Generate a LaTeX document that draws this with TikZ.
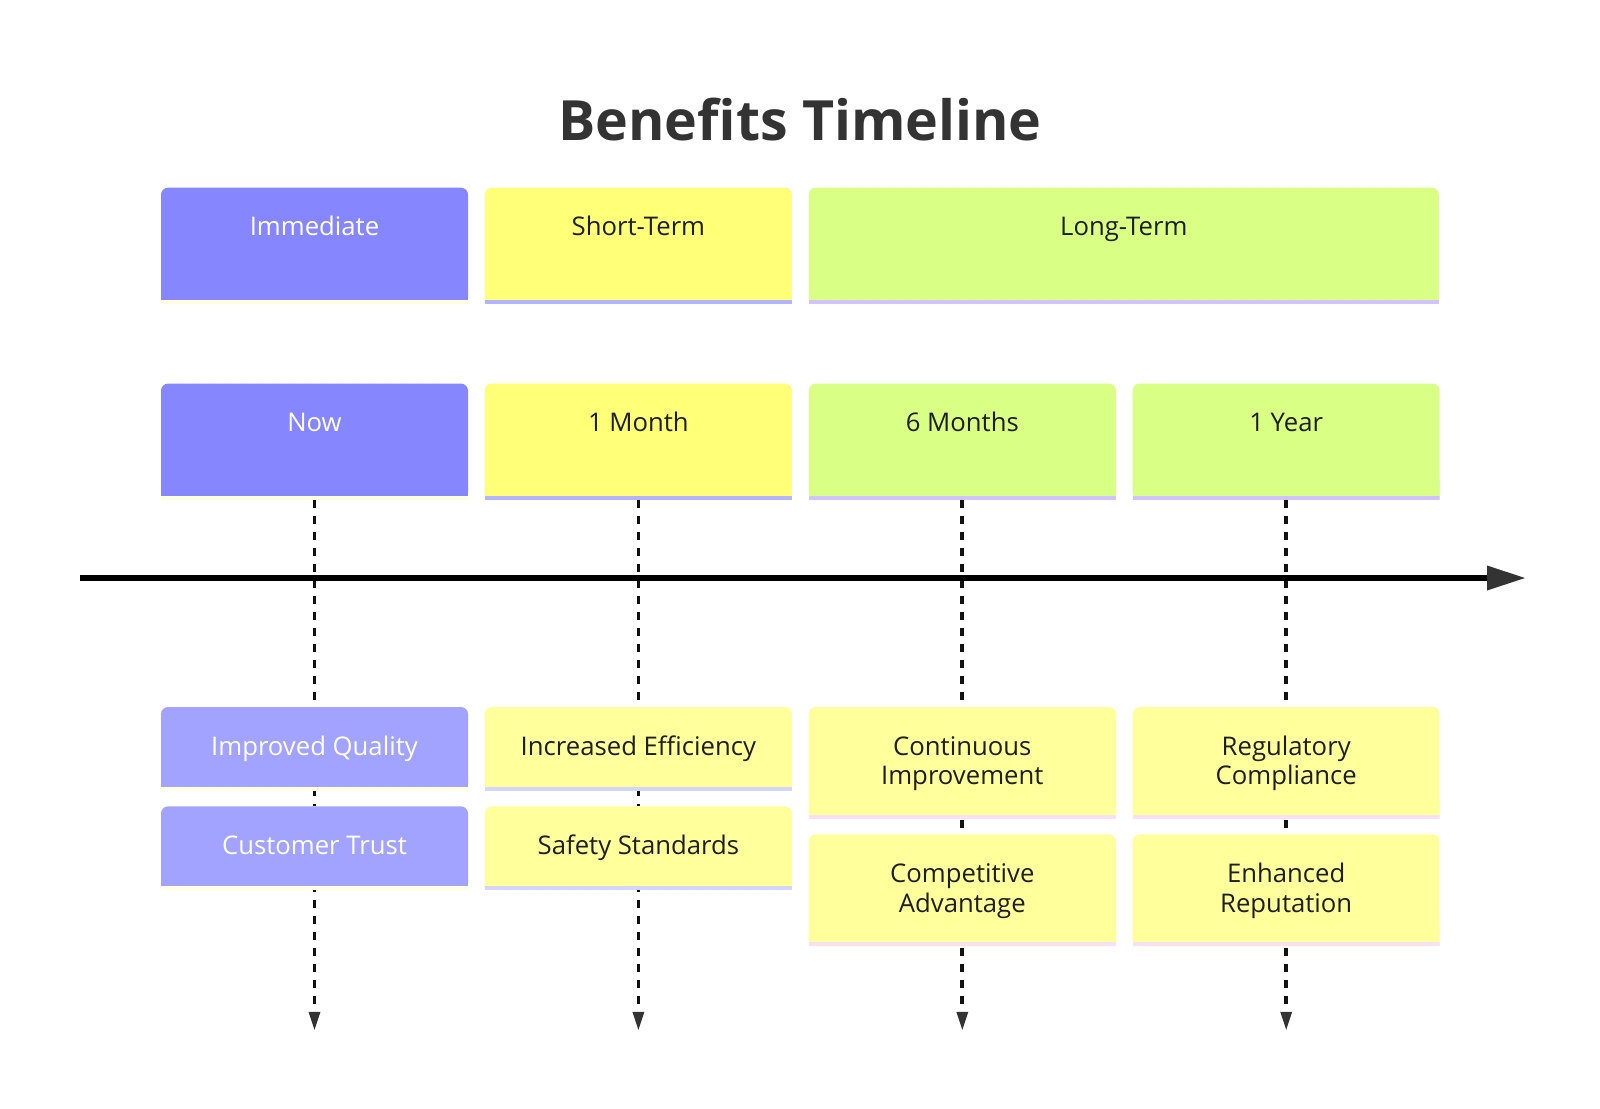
\documentclass[tikz,border=0pt]{standalone}
\usepackage{fontspec}
\setmainfont{Open Sans}
\usepackage{xcolor}
\usepackage{tikz}
\usetikzlibrary{positioning,arrows.meta}
\definecolor{blueFill}{HTML}{8686FF}
\definecolor{blueLight}{HTML}{A2A2FF}
\definecolor{yellowFill}{HTML}{FFFF78}
\definecolor{yellowLight}{HTML}{FFFF9C}
\definecolor{greenFill}{HTML}{D9FF85}
\definecolor{creamLine}{HTML}{FFFFDE}
\definecolor{creamLight}{HTML}{FFFFE3}
\definecolor{lavLine}{HTML}{B3B3FF}
\definecolor{lavLight}{HTML}{D4D4FF}
\definecolor{lilacLine}{HTML}{D2C2FF}
\definecolor{pinkLight}{HTML}{F8E0F8}
\definecolor{textDark}{HTML}{1E1E1E}
\definecolor{titleGray}{HTML}{333333}
\definecolor{tipGray}{HTML}{333333}
\definecolor{lineDark}{HTML}{111111}
\newcommand{\boxfont}{\fontsize{25.7pt}{29.6pt}\selectfont}
\newcommand{\titlefont}{\fontsize{55.5pt}{60pt}\selectfont\bfseries}
\tikzset{paint/.style 2 args={fill=white, path picture={
    \fill[#1, rounded corners=7pt] (path picture bounding box.south west) rectangle (path picture bounding box.north east);
    \fill[#1] (path picture bounding box.south west) rectangle ([yshift=20pt]path picture bounding box.south east);
    \fill[#2] (path picture bounding box.south west) rectangle ([yshift=4pt]path picture bounding box.south east);}}}
\tikzstyle{arrow} = [draw, line width=6pt, color=black,
    -{Triangle[length=38pt, width=25pt, line width=0pt, color=tipGray]}]
\tikzstyle{dashArrow} = [draw, line width=3.8pt, color=lineDark, dash pattern=on 8.5pt off 7.5pt,
    -{Triangle[length=18pt, width=12pt, line width=0pt, color=tipGray]}]
\tikzstyle{titleText} = [anchor=base, inner sep=0pt, font=\titlefont, text=titleGray]
\tikzstyle{box} = [rectangle, inner sep=0pt, minimum width=307pt, text height=48pt,
    align=center, font=\boxfont]
\tikzstyle{headBox} = [box, text depth=68pt]
\tikzstyle{eventBox} = [box, text depth=35.5pt]
\tikzstyle{blueHead} = [headBox, paint={blueFill}{creamLine}, text=white]
\tikzstyle{yellowHead} = [headBox, paint={yellowFill}{lavLine}, text=textDark]
\tikzstyle{greenHead} = [headBox, paint={greenFill}{lilacLine}, text=textDark]
\tikzstyle{blueEvent} = [eventBox, paint={blueLight}{creamLight}, text=white]
\tikzstyle{yellowEvent} = [eventBox, paint={yellowLight}{lavLight}, text=textDark]
\tikzstyle{greenEvent} = [box, text height=77.6pt, text depth=34.4pt,
    paint={yellowLight}{pinkLight}, text=textDark]
\begin{document}
\begin{tikzpicture}[x=1pt, y=-1pt, node distance=16.5pt]
      \useasboundingbox (0,0) rectangle (1600,1108);
      % Place nodes
      \node [titleText] (title) at (800,140) {Benefits Timeline};

      \node [blueHead, anchor=north] (immediate) at (314.5,187.5) {Immediate};
      \node [yellowHead, right=of immediate] (shortTerm) {Short-Term};
      \node [greenHead, right=of shortTerm, minimum width=630pt] (longTerm) {Long-Term};

      \node [blueHead, below=79.5pt of immediate] (now) {Now};
      \node [yellowHead, right=of now] (month1) {1 Month};
      \node [greenHead, right=of month1] (months6) {6 Months};
      \node [greenHead, right=of months6] (year1) {1 Year};

      \coordinate (axisStart) at (80,578);
      \coordinate (axisEnd) at (1525,578);
      \coordinate [below=530pt of now.south] (nowEnd);
      \coordinate [below=530pt of month1.south] (month1End);
      \coordinate [below=530pt of months6.south] (months6End);
      \coordinate [below=530pt of year1.south] (year1End);

      \path [dashArrow] (now) -- (nowEnd);
      \path [dashArrow] (month1) -- (month1End);
      \path [dashArrow] (months6) -- (months6End);
      \path [dashArrow] (year1) -- (year1End);
      \path [arrow] (axisStart) -- (axisEnd);

      \node [blueEvent, below=207pt of now] (quality) {Improved Quality};
      \node [blueEvent, below=15.5pt of quality] (trust) {Customer Trust};
      \node [yellowEvent, right=of quality] (efficiency) {Increased Efficiency};
      \node [yellowEvent, right=of trust] (safety) {Safety Standards};
      \node [greenEvent, below=207pt of months6] (improvement) {Continuous\\Improvement};
      \node [greenEvent, below=15pt of improvement] (advantage) {Competitive\\Advantage};
      \node [greenEvent, right=of improvement] (compliance) {Regulatory\\Compliance};
      \node [greenEvent, right=of advantage] (reputation) {Enhanced\\Reputation};

  \end{tikzpicture}
\end{document}
